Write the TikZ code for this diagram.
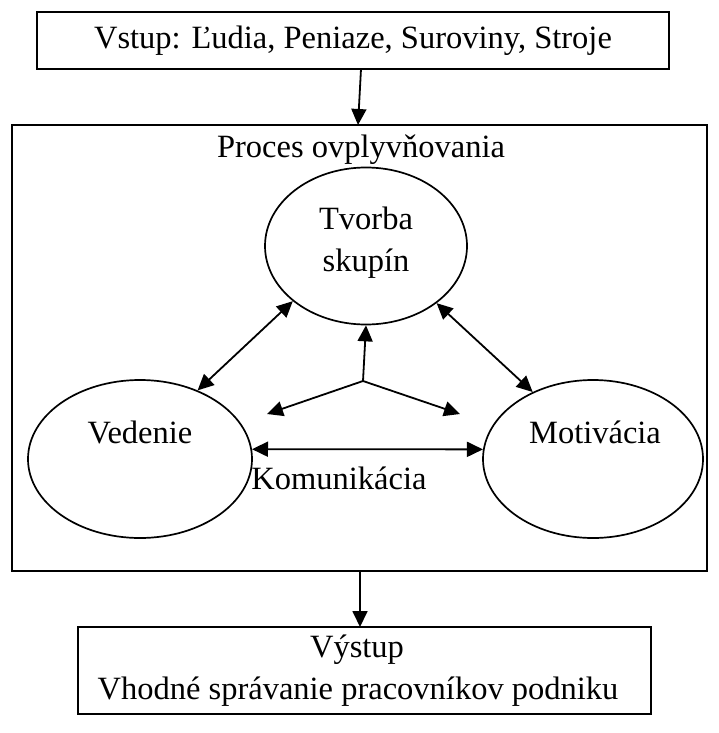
\documentclass[tikz,border=0pt]{standalone}
\usepackage{fontspec}
\setmainfont{Liberation Serif}
\usetikzlibrary{arrows.meta,shapes.geometric}
\begin{document}
\begin{tikzpicture}[x=1pt,y=-1pt,
  box/.style={draw,line width=2.2pt,inner sep=0pt,outer sep=0pt,anchor=north west},
  ell/.style={draw,ellipse,line width=1.7pt,inner sep=0pt},
  txt/.style={font=\fontsize{32.5}{42}\selectfont,inner sep=0pt,align=center},
  arr/.style={line width=1.8pt,-{Triangle[length=16pt,width=15pt]}},
  dbl/.style={line width=1.8pt,{Triangle[length=16pt,width=15pt]}-{Triangle[length=16pt,width=15pt]}}]
\useasboundingbox (0,0) rectangle (718,733);
% boxes
\node[box,txt,minimum width=632pt,minimum height=57pt] (in) at (37,12) {Vstup: Ľudia, Peniaze, Suroviny, Stroje};
\node[box,minimum width=695pt,minimum height=446pt] (proc) at (12,125) {};
\node[box,minimum width=573pt,minimum height=87pt] (out) at (78,627) {};
\node[txt] (title) at (361,150) {Proces ovplyvňovania};
\node[txt] (o1) at (357,650) {Výstup};
\node[txt] (o2) at (358,692) {Vhodné správanie pracovníkov podniku};
% ellipses
\node[ell,minimum width=202pt,minimum height=157pt] (tv) at (366,246) {};
\node[ell,minimum width=224pt,minimum height=158pt] (ved) at (140,459) {};
\node[ell,minimum width=220pt,minimum height=158pt] (mot) at (593,459) {};
\node[txt] (tvt) at (366,243) {Tvorba\\skupín};
\node[txt] (vedt) at (140,432) {Vedenie};
\node[txt] (mott) at (595,432) {Motivácia};
\node[txt] (kom) at (339,478) {Komunikácia};
% connectors
\draw[arr] ([xshift=8pt]in.south) -- ([xshift=-1.5pt]proc.north);
\draw[arr] ([xshift=0.5pt]proc.south) -- ([xshift=-4.5pt]out.north);
\draw[dbl] (tv.217) -- (ved.50);
\draw[dbl] (tv.321) -- (mot.132);
\coordinate (j) at (363,381);
\coordinate (bl) at (267,414);
\coordinate (br) at (460,414);
\draw[arr] (j) -- (tv.south);
\draw[arr] (j) -- (bl);
\draw[arr] (j) -- (br);
\draw[dbl] (ved.5) -- (mot.175);
\end{tikzpicture}
\end{document}
